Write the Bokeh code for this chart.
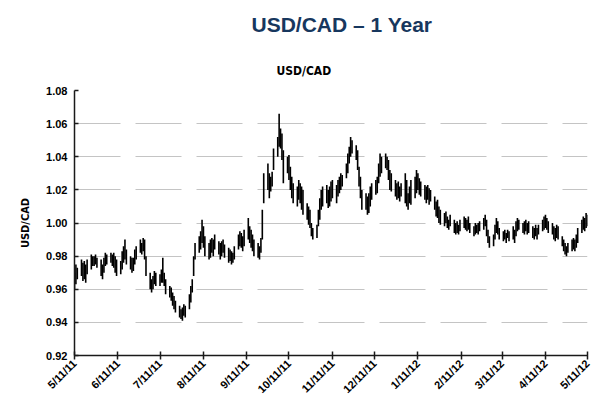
import math
import pandas as pd
from bokeh.plotting import figure
from bokeh.models import Range1d, FixedTicker, Title, ColumnDataSource
from bokeh.embed import file_html
from bokeh.resources import INLINE

title_text = "USD/CAD – 1 Year"
subtitle_text = "USD/CAD"
y_label = "USD/CAD"

start_date = "2011-05-11"
end_date = "2012-05-11"

tick_dates = ["2011-05-11", "2011-06-11", "2011-07-11", "2011-08-11", "2011-09-11",
              "2011-10-11", "2011-11-11", "2011-12-11", "2012-01-11", "2012-02-11",
              "2012-03-11", "2012-04-11", "2012-05-11"]
tick_labels = ["5/11/11", "6/11/11", "7/11/11", "8/11/11", "9/11/11", "10/11/11",
               "11/11/11", "12/11/11", "1/11/12", "2/11/12", "3/11/12", "4/11/12", "5/11/12"]
y_ticks = [0.92, 0.94, 0.96, 0.98, 1.00, 1.02, 1.04, 1.06, 1.08]

# daily lows / highs (business days)
lows = [
    .960, .963, .966, .968, .965,
    .966, .964, .969, .972, .974,
    .974, .975, .973, .968, .966,
    .970, .974, .975, .976, .974,
    .973, .970, .968, .969, .972,
    .976, .978, .975, .972, .970,
    .971, .975, .978, .982, .981,
    .983, .978, .968, .960, .958,
    .960, .963, .962, .962, .964,
    .964, .962, .957, .955, .953,
    .950, .948, .946, .943, .942,
    .941, .944, .943, .948, .952,
    .958, .968, .978, .982, .984,
    .988, .985, .980, .978, .979,
    .982, .980, .984, .981, .978,
    .980, .982, .979, .976, .977,
    .975, .976, .978, .984, .986,
    .985, .983, .986, .990, .988,
    .985, .983, .980, .979, .978,
    .982, .990, 1.012, 1.020, 1.015,
    1.019, 1.022, 1.032, 1.040, 1.046,
    1.045, 1.038, 1.024, 1.030, 1.026,
    1.020, 1.015, 1.012, 1.010, 1.014,
    1.012, 1.008, 1.005, 1.002, .999,
    .997, .992, .990, .991, .998,
    1.002, 1.008, 1.010, 1.012, 1.009,
    1.010, 1.013, 1.015, 1.012, 1.016,
    1.018, 1.020, 1.022, 1.027, 1.030,
    1.036, 1.040, 1.042, 1.038, 1.032,
    1.022, 1.015, 1.008, 1.008, 1.005,
    1.006, 1.010, 1.014, 1.017, 1.018,
    1.024, 1.028, 1.030, 1.033, 1.032,
    1.026, 1.020, 1.019, 1.016, 1.014,
    1.015, 1.013, 1.016, 1.012, 1.010,
    1.008, 1.012, 1.011, 1.015, 1.018,
    1.020, 1.017, 1.016, 1.014, 1.012,
    1.014, 1.011, 1.013, 1.008, 1.004,
    1.003, 1.000, .999, .998, 1.000,
    .997, .996, .998, .994, .993,
    .994, .993, .995, .997, .996,
    .995, .996, .994, .992, .993,
    .994, .993, .995, .996, .998,
    .992, .988, .985, .986, .990,
    .994, .993, .990, .989, .990,
    .988, .991, .989, .990, .988,
    .992, .995, .996, .994, .993,
    .995, .993, .994, .991, .990,
    .992, .990, .993, .995, .996,
    .997, .996, .994, .993, .990,
    .989, .991, .990, .986, .983,
    .981, .980, .982, .983, .984,
    .983, .985, .988, .994, .996,
    .995, .997, .998,
]
highs = [
    .970, .975, .973, .978, .976,
    .977, .975, .978, .981, .980,
    .980, .981, .979, .978, .975,
    .979, .982, .981, .982, .981,
    .982, .980, .978, .977, .983,
    .986, .990, .984, .980, .979,
    .979, .984, .986, .990, .988,
    .991, .990, .980, .970, .966,
    .968, .971, .970, .969, .972,
    .979, .970, .966, .962, .961,
    .958, .956, .953, .950, .948,
    .949, .951, .950, .957, .962,
    .966, .980, .988, .992, .995,
    1.002, .998, .992, .988, .990,
    .991, .990, .993, .989, .988,
    .989, .990, .987, .985, .984,
    .983, .982, .986, .993, .995,
    .994, .992, .996, 1.003, .998,
    .996, .993, .990, .988, .986,
    .991, 1.008, 1.030, 1.036, 1.030,
    1.028, 1.031, 1.045, 1.052, 1.066,
    1.057, 1.054, 1.044, 1.040, 1.041,
    1.034, 1.028, 1.024, 1.022, 1.026,
    1.024, 1.022, 1.020, 1.012, 1.010,
    1.008, 1.000, .997, .999, 1.008,
    1.015, 1.020, 1.022, 1.023, 1.020,
    1.022, 1.025, 1.026, 1.023, 1.026,
    1.028, 1.030, 1.029, 1.036, 1.042,
    1.046, 1.052, 1.050, 1.047, 1.044,
    1.034, 1.028, 1.020, 1.018, 1.016,
    1.018, 1.022, 1.024, 1.026, 1.028,
    1.036, 1.042, 1.040, 1.042, 1.040,
    1.038, 1.032, 1.030, 1.026, 1.024,
    1.025, 1.022, 1.024, 1.030, 1.026,
    1.018, 1.022, 1.026, 1.028, 1.032,
    1.030, 1.027, 1.025, 1.023, 1.022,
    1.023, 1.021, 1.020, 1.016, 1.013,
    1.014, 1.010, 1.008, 1.006, 1.007,
    1.004, 1.002, 1.005, 1.002, 1.000,
    1.001, .999, 1.002, 1.004, 1.003,
    1.002, 1.004, 1.000, .998, 1.000,
    .999, 1.000, 1.001, 1.003, 1.005,
    1.002, .996, .992, .993, .999,
    1.003, 1.001, .997, .995, .996,
    .994, .996, .995, .998, .996,
    1.001, 1.003, 1.002, 1.000, 1.001,
    1.002, 1.000, 1.001, .998, .997,
    .999, .997, .999, 1.002, 1.004,
    1.005, 1.003, 1.001, 1.000, .998,
    .997, .999, .998, .992, .990,
    .988, .986, .988, .990, .991,
    .990, .993, .997, 1.002, 1.004,
    1.003, 1.006, 1.005,
]

dates = pd.bdate_range(start_date, end_date)
t0 = pd.Timestamp(start_date)
xs = [(d - t0).days for d in dates]
n = min(len(xs), len(lows), len(highs))
src = ColumnDataSource(data=dict(x=xs[:n], lo=lows[:n], hi=highs[:n]))
tick_x = [(pd.Timestamp(t) - t0).days for t in tick_dates]
span_days = (pd.Timestamp(end_date) - t0).days

narrow = "'Liberation Sans Narrow', 'DejaVu Sans Condensed', sans-serif"

p = figure(width=600, height=402, x_range=Range1d(0, span_days),
           y_range=Range1d(y_ticks[0], y_ticks[-1]), output_backend="svg",
           toolbar_location=None, title=None,
           min_border_left=74, min_border_right=13, min_border_bottom=47, min_border_top=0)
p.outline_line_color = None
p.background_fill_color = "white"
p.border_fill_color = "white"

p.segment(x0="x", y0="lo", x1="x", y1="hi", source=src, line_color="black", line_width=1.6)

p.xgrid.visible = False
p.yaxis.ticker = FixedTicker(ticks=y_ticks)
p.ygrid.ticker = FixedTicker(ticks=y_ticks)
p.ygrid.grid_line_color = "#C4C4C4"
p.ygrid.grid_line_width = 1
p.ygrid.grid_line_dash = "46 15"

p.yaxis.major_label_overrides = {t: f"{t:.2f}" for t in y_ticks}
p.xaxis.ticker = FixedTicker(ticks=tick_x)
p.xaxis.major_label_overrides = dict(zip(tick_x, tick_labels))
p.xaxis.major_label_orientation = math.pi / 4

for ax in (p.xaxis, p.yaxis):
    ax.axis_line_color = "#1a1a1a"
    ax.axis_line_width = 1.5
    ax.major_tick_line_color = "#1a1a1a"
    ax.major_tick_line_width = 1.5
    ax.minor_tick_line_color = None
    ax.major_label_text_font = "Liberation Sans"
    ax.major_label_text_font_style = "bold"
    ax.major_label_text_color = "black"

p.xaxis.major_tick_in = 4
p.xaxis.major_tick_out = 4
p.xaxis.major_label_standoff = 2
p.xaxis.major_label_text_font_size = "11px"
p.yaxis.major_tick_in = 4
p.yaxis.major_tick_out = 0
p.yaxis.major_label_standoff = 7
p.yaxis.major_label_text_font_size = "11px"

p.yaxis.axis_label = y_label
p.yaxis.axis_label_text_font = narrow
p.yaxis.axis_label_text_font_size = "11px"
p.yaxis.axis_label_text_font_style = "bold"
p.yaxis.axis_label_standoff = 11
p.yaxis.axis_label_text_color = "black"

sub = Title(text=subtitle_text, align="left", offset=202, text_font=narrow,
            text_font_size="12px", text_font_style="bold", text_color="black", standoff=25)
main = Title(text=title_text, align="left", offset=177, text_font="Liberation Sans",
             text_font_size="21px", text_font_style="bold", text_color="#17375E",
             vertical_align="top", standoff=24)
p.add_layout(sub, "above")
p.add_layout(main, "above")

open("out.html", "w").write(file_html(p, INLINE))
